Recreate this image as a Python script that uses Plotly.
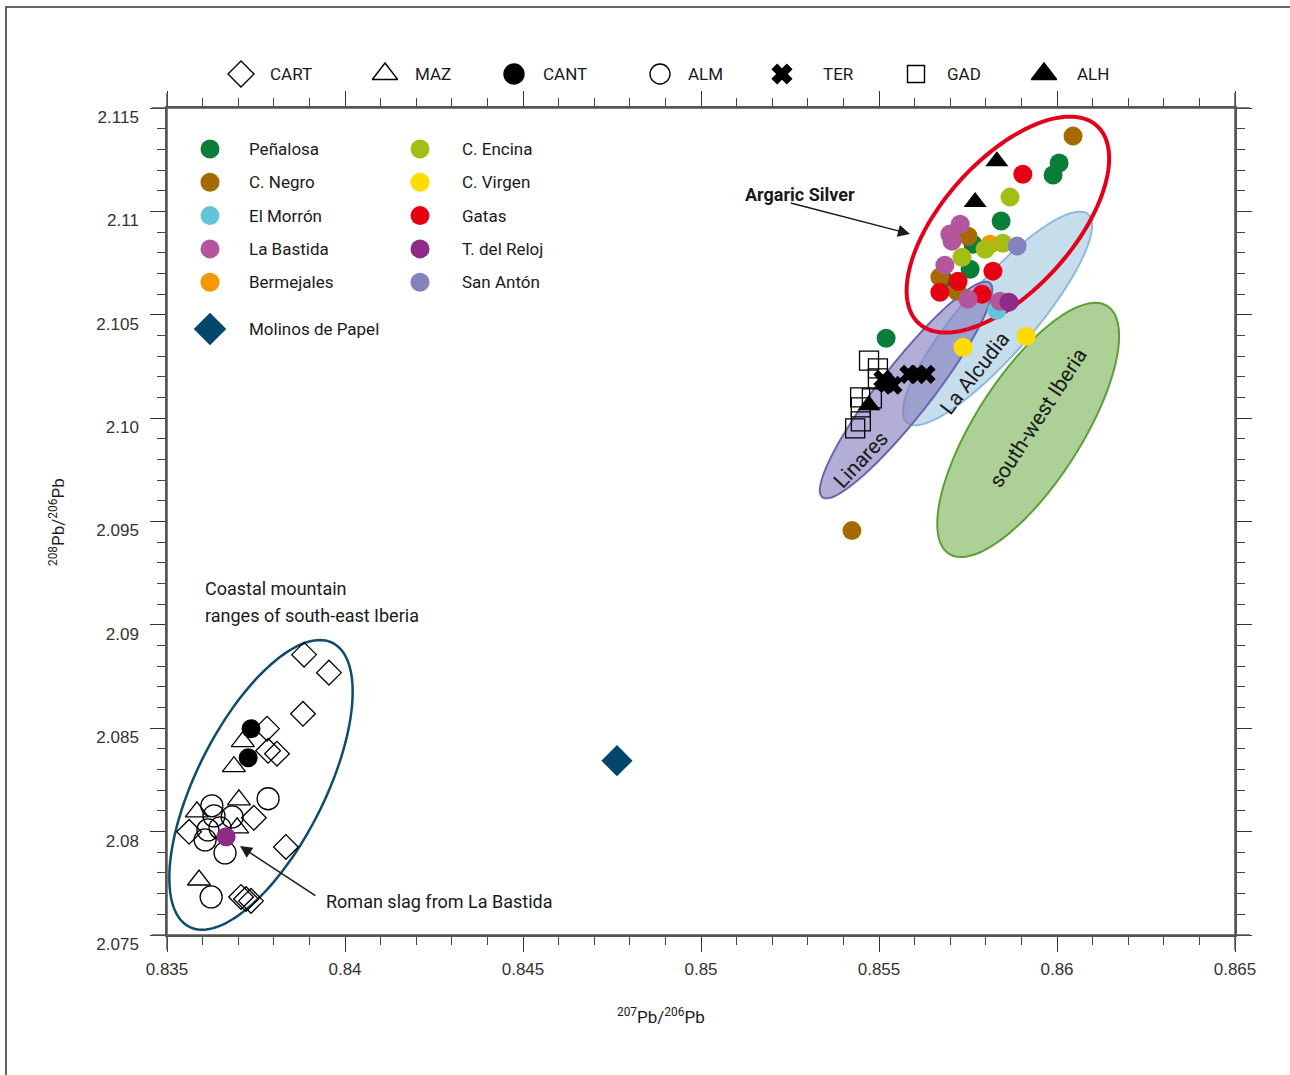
import numpy as np
import plotly.graph_objects as go

# ---------------------------------------------------------------------------
# Lead isotope ratios: x = 207Pb/206Pb, y = 208Pb/206Pb
# ---------------------------------------------------------------------------
penalosa_x = [0.86006, 0.85989, 0.85843, 0.85764, 0.85756, 0.85680, 0.85520]
penalosa_y = [2.11234, 2.11176, 2.10953, 2.10841, 2.10720, 2.10672, 2.10386]

cnegro_x = [0.86045, 0.85750, 0.85719, 0.85671, 0.85424]
cnegro_y = [2.11364, 2.10880, 2.10614, 2.10682, 2.09456]

morron_x = [0.85831]
morron_y = [2.10522]

bastida_x = [0.85728, 0.85699, 0.85705, 0.85685, 0.85750, 0.85840]
bastida_y = [2.10938, 2.10890, 2.10856, 2.10740, 2.10575, 2.10565]

bermejales_x = [0.85812]
bermejales_y = [2.10841]

encina_x = [0.85868, 0.85848, 0.85798, 0.85733]
encina_y = [2.11069, 2.10846, 2.10817, 2.10778]

virgen_x = [0.85736, 0.85913]
virgen_y = [2.10343, 2.10396]

gatas_x = [0.85904, 0.85820, 0.85722, 0.85671, 0.85789]
gatas_y = [2.11180, 2.10711, 2.10662, 2.10609, 2.10599]

reloj_x = [0.85865]
reloj_y = [2.10561]

sananton_x = [0.85888]
sananton_y = [2.10832]

molinos_x = [0.84764]
molinos_y = [2.08343]

roman_slag_x = [0.83666]
roman_slag_y = [2.07975]

# ore / mine groups
cart_x = [0.83885, 0.83955, 0.83882, 0.83781, 0.83784, 0.83809, 0.83744, 0.83834,
          0.83562, 0.83708, 0.83722, 0.83736]
cart_y = [2.08856, 2.08769, 2.08570, 2.08498, 2.08391, 2.08377, 2.08067, 2.07926,
          2.07999, 2.07684, 2.07674, 2.07665]

maz_x = [0.83713, 0.83688, 0.83702, 0.83584, 0.83697, 0.83590]
maz_y = [2.08435, 2.08314, 2.08154, 2.08096, 2.08018, 2.07766]

cant_x = [0.83736, 0.83728]
cant_y = [2.08498, 2.08357]

alm_x = [0.83784, 0.83626, 0.83632, 0.83615, 0.83649, 0.83607, 0.83663, 0.83624, 0.83683]
alm_y = [2.08159, 2.08125, 2.08076, 2.08008, 2.08018, 2.07960, 2.07897, 2.07684, 2.08071]

ter_x = [0.85511, 0.85520, 0.85539, 0.85584, 0.85607, 0.85632]
ter_y = [2.10188, 2.10168, 2.10159, 2.10212, 2.10212, 2.10212]

gad_x = [0.85472, 0.85497, 0.85497, 0.85447, 0.85480, 0.85449, 0.85449, 0.85433]
gad_y = [2.10278, 2.10241, 2.10192, 2.10100, 2.10096, 2.10052, 2.09984, 2.09950]

alh_x = [0.85831, 0.85770, 0.85472]
alh_y = [2.11243, 2.11045, 2.10062]

# axis ticks
x_ticks = [0.835, 0.84, 0.845, 0.85, 0.855, 0.86, 0.865]
x_ticktext = ["0.835", "0.84", "0.845", "0.85", "0.855", "0.86", "0.865"]
y_ticks = [2.075, 2.08, 2.085, 2.09, 2.095, 2.10, 2.105, 2.11, 2.115]
y_ticktext = ["2.075", "2.08", "2.085", "2.09", "2.095", "2.10", "2.105", "2.11", "2.115"]

# ---------------------------------------------------------------------------
# Layout geometry
# ---------------------------------------------------------------------------
W, H = 1290, 1075
ML, MR, MB = 167, 55, 140
MT = 30                      # top margin of the whole drawing area (keys sit above the frame)
FRAME_TOP = 108              # pixel row of the upper frame line
X_RANGE = [0.835, 0.865]
Y_RANGE = [2.075, 2.115]
AREA_H = H - MT - MB
PLOT_W = W - ML - MR
PLOT_H = H - MB - FRAME_TOP
Y_DOMAIN_TOP = PLOT_H / AREA_H
PX_PER_X = PLOT_W / (X_RANGE[1] - X_RANGE[0])
PX_PER_Y = PLOT_H / (Y_RANGE[1] - Y_RANGE[0])

FONT = "Roboto, 'Liberation Sans', Arial, sans-serif"
TICK_FONT = "'Liberation Sans', Arial, sans-serif"
INK = "#1a1a1a"

SITE_COLORS = {
    "Peñalosa": "#0a7d38",
    "C. Negro": "#a66b00",
    "El Morrón": "#62c4d6",
    "La Bastida": "#b3569e",
    "Bermejales": "#f39800",
    "C. Encina": "#a5be16",
    "C. Virgen": "#ffdc00",
    "Gatas": "#e50012",
    "T. del Reloj": "#8e2b87",
    "San Antón": "#8583be",
}
MOLINOS_COLOR = "#02466b"


def ellipse_path(cx, cy, a_px, b_px, angle_deg, n=160):
    """Closed SVG path (data coordinates) of an ellipse whose axes are given in screen pixels."""
    t = np.linspace(0, 2 * np.pi, n)
    th = np.radians(angle_deg)
    dx = a_px * np.cos(t) * np.cos(th) - b_px * np.sin(t) * np.sin(th)
    dy = a_px * np.cos(t) * np.sin(th) + b_px * np.sin(t) * np.cos(th)
    xs = cx + dx / PX_PER_X
    ys = cy + dy / PX_PER_Y
    return "M " + " L ".join(f"{x:.6f},{y:.6f}" for x, y in zip(xs, ys)) + " Z"


def dom_x(px):
    return (px - ML) / PLOT_W


def dom_y(py):
    return (H - MB - py) / PLOT_H


fig = go.Figure()

# ---------------------------------------------------------------------------
# Field ellipses
# ---------------------------------------------------------------------------
shapes = []
# south-west Iberia
shapes.append(dict(type="path", xref="x", yref="y", layer="below",
                   path=ellipse_path(0.85919, 2.09943, 147, 53, 57.4),
                   fillcolor="#acd095", line=dict(color="#5c9e37", width=2)))
# La Alcudia
shapes.append(dict(type="path", xref="x", yref="y", layer="below",
                   path=ellipse_path(0.85833, 2.10482, 138, 36, 49),
                   fillcolor="rgba(184,212,230,0.8)", line=dict(color="#8fbad8", width=2)))
# Linares
shapes.append(dict(type="path", xref="x", yref="y", layer="below",
                   path=ellipse_path(0.85576, 2.10136, 136, 26, 52),
                   fillcolor="rgba(126,120,188,0.6)", line=dict(color="#6a66ad", width=2)))
# Argaric silver
shapes.append(dict(type="path", xref="x", yref="y", layer="below",
                   path=ellipse_path(0.85862, 2.10936, 133, 65, 48),
                   fillcolor="rgba(0,0,0,0)", line=dict(color="#e2001a", width=4)))
# Coastal ranges of south-east Iberia
shapes.append(dict(type="path", xref="x", yref="y", layer="below",
                   path=ellipse_path(0.83764, 2.08226, 159, 64, 63.2),
                   fillcolor="rgba(0,0,0,0)", line=dict(color="#0d4c6c", width=2.5)))

# frame lines running past the plot corners, and the outer border
ext_x = 15 / PLOT_W
ext_y = 15 / PLOT_H
frame_col = "#555555"
for yy in (0, 1):
    shapes.append(dict(type="line", xref="x domain", yref="y domain", x0=-ext_x, x1=1 + ext_x,
                       y0=yy, y1=yy, line=dict(color=frame_col, width=1.5)))
for xx in (0, 1):
    shapes.append(dict(type="line", xref="x domain", yref="y domain", x0=xx, x1=xx,
                       y0=-ext_y, y1=1 + ext_y, line=dict(color=frame_col, width=1.5)))
shapes.append(dict(type="rect", xref="x domain", yref="y domain",
                   x0=dom_x(6), x1=dom_x(W + 20), y0=dom_y(H + 20), y1=dom_y(7),
                   line=dict(color="#333333", width=1.5), fillcolor="rgba(0,0,0,0)"))

# ---------------------------------------------------------------------------
# Data traces
# ---------------------------------------------------------------------------
OPEN_LINE = dict(color="black", width=1.3)


def add_open(x, y, symbol, size):
    fig.add_trace(go.Scatter(x=x, y=y, mode="markers", showlegend=False, hoverinfo="skip",
                             marker=dict(symbol=symbol, size=size, color="black", line=OPEN_LINE)))


add_open(alm_x, alm_y, "circle-open", 22)
add_open(maz_x, maz_y, "triangle-up-open", 20)
add_open(cart_x, cart_y, "diamond-open", 19)
add_open(gad_x, gad_y, "square-open", 19)

fig.add_trace(go.Scatter(x=cant_x, y=cant_y, mode="markers", showlegend=False,
                         marker=dict(symbol="circle", size=19, color="black")))
fig.add_trace(go.Scatter(x=ter_x, y=ter_y, mode="markers", showlegend=False,
                         marker=dict(symbol="x", size=17, color="black")))
fig.add_trace(go.Scatter(x=alh_x, y=alh_y, mode="markers", showlegend=False,
                         marker=dict(symbol="triangle-up", size=20, color="black")))

site_series = [
    ("Peñalosa", penalosa_x, penalosa_y),
    ("C. Negro", cnegro_x, cnegro_y),
    ("El Morrón", morron_x, morron_y),
    ("C. Virgen", virgen_x, virgen_y),
    ("Bermejales", bermejales_x, bermejales_y),
    ("C. Encina", encina_x, encina_y),
    ("Gatas", gatas_x, gatas_y),
    ("La Bastida", bastida_x, bastida_y),
    ("San Antón", sananton_x, sananton_y),
    ("T. del Reloj", reloj_x, reloj_y),
]
for name, xs, ys in site_series:
    fig.add_trace(go.Scatter(x=xs, y=ys, mode="markers", name=name, showlegend=False,
                             marker=dict(symbol="circle", size=19, color=SITE_COLORS[name],
                                         line=dict(width=0))))

fig.add_trace(go.Scatter(x=roman_slag_x, y=roman_slag_y, mode="markers", showlegend=False,
                         marker=dict(symbol="circle", size=19, color=SITE_COLORS["T. del Reloj"],
                                     line=dict(width=0))))
fig.add_trace(go.Scatter(x=molinos_x, y=molinos_y, mode="markers", showlegend=False,
                         marker=dict(symbol="diamond", size=24, color=MOLINOS_COLOR,
                                     line=dict(width=0))))

# ---------------------------------------------------------------------------
# Keys, drawn on a pixel-based axis pair covering the whole drawing area
# ---------------------------------------------------------------------------
annotations = []

top_keys = ["CART", "MAZ", "CANT", "ALM", "TER", "GAD", "ALH"]
top_symbols = ["diamond-open", "triangle-up-open", "circle", "circle-open", "x", "square-open", "triangle-up"]
top_sizes = [20, 22, 20, 20, 17, 17, 22]
top_marker_px = [241, 385, 514, 660, 782, 916, 1044]
top_label_px = [268, 413, 541, 686, 821, 945, 1075]
TOP_Y = 74
for key, sym, sz, mx, lx in zip(top_keys, top_symbols, top_sizes, top_marker_px, top_label_px):
    fig.add_trace(go.Scatter(x=[mx], y=[TOP_Y], xaxis="x2", yaxis="y2", mode="markers",
                             showlegend=False, cliponaxis=False, hoverinfo="skip",
                             marker=dict(symbol=sym, size=sz, color="black",
                                         line=dict(color="black", width=1.4))))
    annotations.append(dict(x=lx, y=TOP_Y, xref="x2", yref="y2", text=key, showarrow=False,
                            xanchor="left", yanchor="middle",
                            font=dict(family=FONT, size=17, color=INK)))

site_key_cols = [
    ["Peñalosa", "C. Negro", "El Morrón", "La Bastida", "Bermejales"],
    ["C. Encina", "C. Virgen", "Gatas", "T. del Reloj", "San Antón"],
]
key_marker_px = [210, 420]
key_label_px = [247, 460]
KEY_Y0, KEY_DY = 149, 33.3
for col, names in enumerate(site_key_cols):
    for row, name in enumerate(names):
        yy = KEY_Y0 + row * KEY_DY
        fig.add_trace(go.Scatter(x=[key_marker_px[col]], y=[yy], xaxis="x2", yaxis="y2",
                                 mode="markers", showlegend=False, cliponaxis=False, hoverinfo="skip",
                                 marker=dict(symbol="circle", size=19, color=SITE_COLORS[name])))
        annotations.append(dict(x=key_label_px[col], y=yy, xref="x2", yref="y2", text=name,
                                showarrow=False, xanchor="left", yanchor="middle",
                                font=dict(family=FONT, size=17, color=INK)))
MOLINOS_KEY_Y = 329
fig.add_trace(go.Scatter(x=[key_marker_px[0]], y=[MOLINOS_KEY_Y], xaxis="x2", yaxis="y2",
                         mode="markers", showlegend=False, cliponaxis=False, hoverinfo="skip",
                         marker=dict(symbol="diamond", size=25, color=MOLINOS_COLOR)))
annotations.append(dict(x=key_label_px[0], y=MOLINOS_KEY_Y, xref="x2", yref="y2",
                        text="Molinos de Papel", showarrow=False, xanchor="left", yanchor="middle",
                        font=dict(family=FONT, size=17, color=INK)))

# ---------------------------------------------------------------------------
# Field labels, callouts and axis titles
# ---------------------------------------------------------------------------
annotations += [
    dict(x=0.85449, y=2.09797, text="Linares", textangle=-47, showarrow=False,
         font=dict(family=FONT, size=21, color=INK)),
    dict(x=0.85770, y=2.10218, text="La Alcudia", textangle=-52, showarrow=False,
         font=dict(family=FONT, size=21, color=INK)),
    dict(x=0.85947, y=2.10000, text="south-west Iberia", textangle=-57, showarrow=False,
         font=dict(family=FONT, size=21, color=INK)),
    dict(x=0.85278, y=2.11084, text="<b>Argaric Silver</b>", showarrow=False,
         font=dict(family=FONT, size=18, color=INK)),
    dict(x=0.85587, y=2.10891, ax=0.85248, ay=2.11042, axref="x", ayref="y",
         text="", showarrow=True, arrowhead=2, arrowsize=1.6, arrowwidth=1.5, arrowcolor=INK),
    dict(x=0.83601, y=2.09178, text="Coastal mountain", showarrow=False, xanchor="left",
         font=dict(family=FONT, size=18, color=INK)),
    dict(x=0.83601, y=2.09043, text="ranges of south-east Iberia", showarrow=False, xanchor="left",
         font=dict(family=FONT, size=18, color=INK)),
    dict(x=0.83941, y=2.07660, text="Roman slag from La Bastida", showarrow=False, xanchor="left",
         font=dict(family=FONT, size=18, color=INK)),
    dict(x=0.83705, y=2.07930, ax=0.83921, ay=2.07686, axref="x", ayref="y",
         text="", showarrow=True, arrowhead=2, arrowsize=1.6, arrowwidth=1.5, arrowcolor=INK),
    dict(x=dom_x(661), y=dom_y(1016), xref="x domain", yref="y domain",
         xanchor="center", yanchor="middle",
         text="<sup>207</sup>Pb/<sup>206</sup>Pb", showarrow=False,
         font=dict(family=FONT, size=17, color=INK)),
    dict(x=dom_x(57), y=dom_y(522), xref="x domain", yref="y domain", textangle=-90,
         xanchor="center", yanchor="middle",
         text="<sup>208</sup>Pb/<sup>206</sup>Pb", showarrow=False,
         font=dict(family=FONT, size=17, color=INK)),
]

axis_common = dict(
    showline=True, linecolor=frame_col, linewidth=1.5, mirror="allticks",
    ticks="outside", ticklen=15, tickwidth=1.2, tickcolor="#333333",
    showgrid=False, zeroline=False,
    tickfont=dict(family=TICK_FONT, size=17, color="#333333"),
)

fig.update_layout(
    width=W, height=H,
    margin=dict(l=ML, r=MR, t=MT, b=MB),
    paper_bgcolor="white", plot_bgcolor="rgba(0,0,0,0)",
    showlegend=False,
    shapes=shapes,
    annotations=annotations,
    xaxis=dict(range=X_RANGE, tickmode="array", tickvals=x_ticks, ticktext=x_ticktext,
               ticklabelstandoff=3,
               minor=dict(tickmode="linear", tick0=0.835, dtick=0.001, ticks="outside",
                          ticklen=8, tickwidth=1, tickcolor="#444444"),
               **axis_common),
    yaxis=dict(range=Y_RANGE, domain=[0, Y_DOMAIN_TOP],
               tickmode="array", tickvals=y_ticks, ticktext=y_ticktext,
               ticklabelstandoff=8, ticklabelshift=9,
               minor=dict(tickmode="linear", tick0=2.075, dtick=0.001, ticks="outside",
                          ticklen=8, tickwidth=1, tickcolor="#444444"),
               **axis_common),
    xaxis2=dict(overlaying="x", anchor="y2", range=[ML, W - MR], visible=False, fixedrange=True),
    yaxis2=dict(anchor="x2", domain=[0, 1], range=[H - MB, MT], visible=False, fixedrange=True),
)

fig.write_html("out.html")
